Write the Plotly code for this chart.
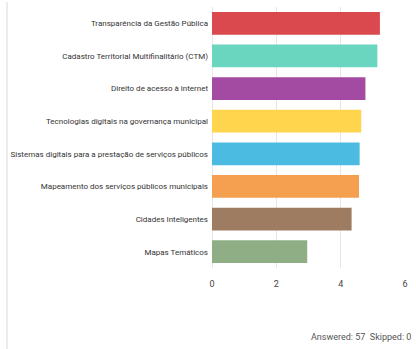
import plotly.graph_objects as go

categories = [
    "Transparência da Gestão Pública",
    "Cadastro Territorial Multifinalitário (CTM)",
    "Direito de acesso à internet",
    "Tecnologias digitais na governança municipal",
    "Sistemas digitais para a prestação de serviços públicos",
    "Mapeamento dos serviços públicos municipais",
    "Cidades Inteligentes",
    "Mapas Temáticos",
]
values = [5.22, 5.14, 4.77, 4.64, 4.59, 4.57, 4.34, 2.96]
colors = ["#d9494e", "#6bd6bf", "#a34aa3", "#fed54c", "#4cbbe2", "#f59f50", "#9e7c62", "#90ae86"]
tick_vals = [0, 2, 4, 6]
tick_text = ["0", "2", "4", "6"]

W, H = 416, 349
ML, MR, MT, MB = 212, 11, 7, 81
PW, PH = W - ML - MR, H - MT - MB

fig = go.Figure(go.Bar(
    x=values, y=categories, orientation="h",
    marker=dict(color=colors, line=dict(width=0)),
    hoverinfo="x+y",
))

font_family = "Roboto, Liberation Sans, Arial, sans-serif"

fig.update_layout(
    width=W, height=H,
    margin=dict(l=ML, r=MR, t=MT, b=MB, autoexpand=False),
    paper_bgcolor="white", plot_bgcolor="white",
    bargap=0.3,
    showlegend=False,
    font=dict(family=font_family, size=8, color="#333333"),
    xaxis=dict(
        range=[0, 6], tickvals=tick_vals, ticktext=tick_text,
        showgrid=True, gridcolor="#e6e6e6", gridwidth=1,
        zeroline=True, zerolinecolor="#e6e6e6", zerolinewidth=1,
        showline=False, ticks="", ticklabelstandoff=9,
        tickfont=dict(size=9, color="#444444"),
        fixedrange=True, automargin=False,
    ),
    yaxis=dict(
        autorange="reversed", showgrid=False, zeroline=False, showline=False,
        ticks="", ticklabelstandoff=3,
        tickfont=dict(size=8, color="#333333"),
        fixedrange=True, automargin=False,
    ),
    shapes=[
        dict(type="line", xref="paper", yref="paper",
             x0=-(ML - 7) / PW, x1=-(ML - 7) / PW,
             y0=-MB / PH, y1=1 + 5 / PH,
             line=dict(color="#e6e6e6", width=1.5)),
    ],
    annotations=[
        dict(text="Answered: 57  Skipped: 0", xref="paper", yref="paper",
             x=1 + 8 / PW, y=-(337 - (H - MB)) / PH,
             xanchor="right", yanchor="middle", showarrow=False,
             font=dict(size=9, color="#555555")),
    ],
)

fig.write_html("out.html")
